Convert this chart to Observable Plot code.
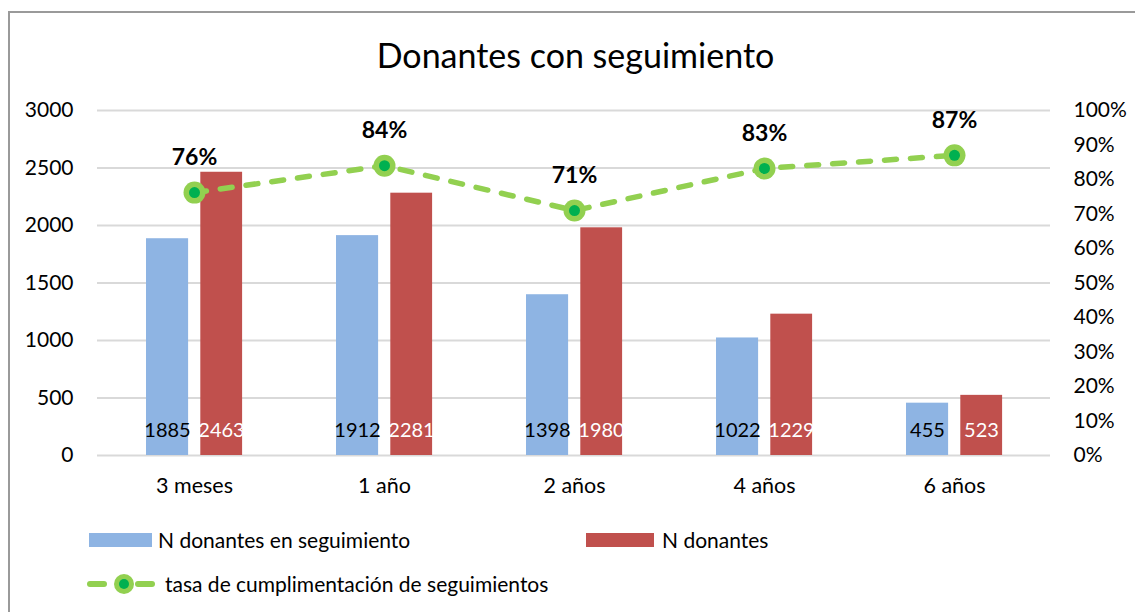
<!DOCTYPE html>
<html>
<head>
<meta charset="utf-8">
<script src="https://cdn.jsdelivr.net/npm/d3@7"></script>
<script src="https://cdn.jsdelivr.net/npm/@observablehq/plot@0.6"></script>
<style>
  html, body { margin: 0; padding: 0; background: #fff; }
  #wrap { position: relative; width: 1135px; height: 612px; overflow: hidden; font-family: Lato, "Open Sans", sans-serif; color: #000; }
  #frame { position: absolute; left: 8px; top: 11px; width: 1200px; height: 700px; border: 2px solid #9a9a9a; box-sizing: border-box; }
  #title { position: absolute; left: 8px; width: 1135px; top: 35px; height: 40px; line-height: 40px; text-align: center; font-size: 34px; }
  #chart { position: absolute; left: 0; top: 90px; }
  .lg { position: absolute; font-size: 21px; line-height: 24px; white-space: nowrap; }
  .sw { position: absolute; height: 14px; }
</style>
</head>
<body>
<div id="wrap">
  <div id="frame"></div>
  <div id="title">Donantes con seguimiento</div>
  <div id="chart"></div>
  <div class="sw" style="left:89px;top:533px;width:63px;background:#8eb4e3"></div>
  <div class="lg" style="left:158px;top:528px">N donantes en seguimiento</div>
  <div class="sw" style="left:586px;top:533px;width:68px;background:#c0504d"></div>
  <div class="lg" style="left:662px;top:528px">N donantes</div>
  <svg style="position:absolute;left:80px;top:570px" width="80" height="28">
    <line x1="10" y1="14" x2="24" y2="14" stroke="#92d050" stroke-width="6" stroke-linecap="round"/>
    <line x1="58" y1="14" x2="72" y2="14" stroke="#92d050" stroke-width="6" stroke-linecap="round"/>
    <circle cx="44" cy="14" r="10" fill="#92d050"/>
    <circle cx="44" cy="14" r="5" fill="#00b050"/>
  </svg>
  <div class="lg" style="left:165px;top:572px">tasa de cumplimentación de seguimientos</div>
</div>
<script>
const categories = ["3 meses", "1 año", "2 años", "4 años", "6 años"];
const enSeguimiento = [1885, 1912, 1398, 1022, 455];
const donantes = [2463, 2281, 1980, 1229, 523];
const tasa = [0.762, 0.84, 0.71, 0.832, 0.87];
const leftTicks = [0, 500, 1000, 1500, 2000, 2500, 3000];
const rightTicks = [0, 0.1, 0.2, 0.3, 0.4, 0.5, 0.6, 0.7, 0.8, 0.9, 1.0];

const yMax = 3000;
const data = categories.map((c, i) => ({cat: c, seg: enSeguimiento[i], don: donantes[i], rate: tasa[i]}));

const W = 1135, H = 420, mL = 97, mR = 85;
const band = (W - mL - mR) / categories.length;
const half = band / 2;

const chart = Plot.plot({
  width: W,
  height: H,
  marginTop: 20,
  marginBottom: 55,
  marginLeft: mL,
  marginRight: mR,
  style: {fontFamily: "Lato, 'Open Sans', sans-serif", fontSize: "21px", color: "#000", background: "transparent"},
  x: {domain: categories, padding: 0, label: null},
  y: {domain: [0, yMax], label: null},
  marks: [
    Plot.gridY(leftTicks, {stroke: "#d9d9d9", strokeOpacity: 1, strokeWidth: 2}),
    Plot.axisX({tickSize: 0, tickPadding: 22, fontSize: 21.5, label: null}),
    Plot.axisY({ticks: leftTicks, tickSize: 0, tickPadding: 24, fontSize: 21, label: null, tickFormat: d => String(d)}),
    Plot.axisY({anchor: "right", ticks: rightTicks.map(t => t * yMax), tickSize: 0, tickPadding: 23, fontSize: 21, label: null,
      tickFormat: d => Math.round(d / yMax * 100) + "%"}),
    Plot.barY(data, {x: "cat", y: "seg", fill: "#8eb4e3", insetLeft: half - 48.3, insetRight: half + 5.6}),
    Plot.barY(data, {x: "cat", y: "don", fill: "#c0504d", insetLeft: half + 6, insetRight: half - 48.4}),
    Plot.text(data, {x: "cat", y: () => 0, text: d => String(d.seg), dx: -27, dy: -25, fontSize: 20, fill: "#000"}),
    Plot.text(data, {x: "cat", y: () => 0, text: d => String(d.don), dx: 27, dy: -25, fontSize: 20, fill: "#fff"}),
    Plot.line(data, {x: "cat", y: d => d.rate * yMax, stroke: "#92d050", strokeWidth: 5.5, strokeDasharray: "12,14", strokeLinecap: "round"}),
    Plot.dot(data, {x: "cat", y: d => d.rate * yMax, r: 11, fill: "#92d050"}),
    Plot.dot(data, {x: "cat", y: d => d.rate * yMax, r: 5.5, fill: "#00b050"}),
    Plot.text(data, {x: "cat", y: d => d.rate * yMax, text: d => Math.round(d.rate * 100) + "%", dy: -35, fontSize: 23, fontWeight: "bold", fill: "#000"})
  ]
});
document.getElementById("chart").appendChild(chart);
</script>
</body>
</html>
